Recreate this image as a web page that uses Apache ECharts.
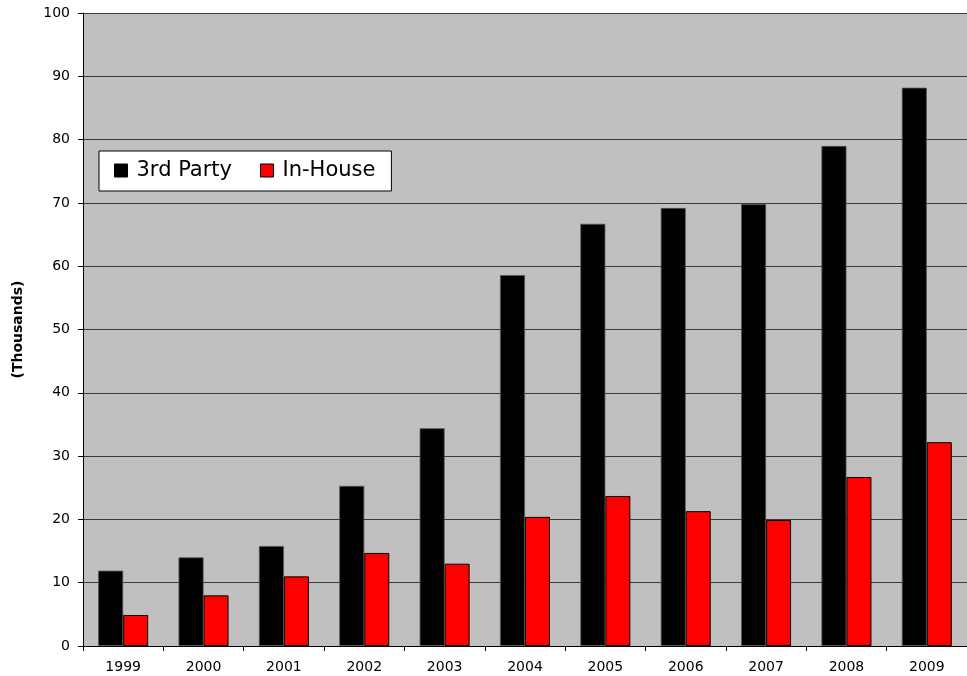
<!DOCTYPE html>
<html>
<head>
<meta charset="utf-8">
<script src="https://cdn.jsdelivr.net/npm/echarts@6/dist/echarts.min.js"></script>
<style>html,body{margin:0;padding:0;background:#fff}#c{width:967px;height:676px}</style>
</head>
<body>
<div id="c"></div>
<script>
var years = ['1999','2000','2001','2002','2003','2004','2005','2006','2007','2008','2009'];
var thirdParty = [11.9, 14.0, 15.8, 25.3, 34.4, 58.6, 66.7, 69.2, 69.8, 79.0, 88.2];
var inHouse = [4.9, 8.0, 11.0, 14.7, 13.0, 20.4, 23.7, 21.3, 19.9, 26.7, 32.2];
var yMin = 0, yMax = 100, yStep = 10;

var chart = echarts.init(document.getElementById('c'), null, {renderer: 'canvas'});
var font = 'DejaVu Sans, Liberation Sans, Arial, sans-serif';
chart.setOption({
  animation: false,
  grid: {left: 83, top: 13, bottom: 30, right: -3, show: true, backgroundColor: '#C0C0C0', borderColor: '#808080', borderWidth: 0},
  legend: {
    left: 99, top: 151, itemWidth: 13, itemHeight: 13, itemGap: 28,
    padding: [9, 16, 10, 15],
    backgroundColor: '#fff', borderColor: '#000', borderWidth: 1,
    textStyle: {fontFamily: font, fontSize: 21, color: '#000', padding: [0, 0, 0, 4]},
    icon: 'rect',
    data: [{name: '3rd Party', itemStyle: {borderColor: '#000', borderWidth: 1}}, {name: 'In-House', itemStyle: {borderColor: '#000', borderWidth: 1}}]
  },
  xAxis: {
    type: 'category', data: years, boundaryGap: true,
    axisLine: {show: true, lineStyle: {color: '#000', width: 1}},
    axisTick: {show: true, length: 5, lineStyle: {color: '#000'}},
    axisLabel: {fontFamily: font, fontSize: 14, color: '#000', margin: 14}
  },
  yAxis: {
    type: 'value', min: yMin, max: yMax, interval: yStep,
    name: '(Thousands)', nameLocation: 'middle', nameGap: 58, nameRotate: 90,
    nameTextStyle: {fontFamily: font, fontSize: 14, fontWeight: 'bold', color: '#000'},
    axisLine: {show: true, lineStyle: {color: '#000', width: 1}},
    axisTick: {show: true, length: 5, lineStyle: {color: '#000'}},
    axisLabel: {fontFamily: font, fontSize: 14, color: '#000', margin: 13},
    splitLine: {show: true, lineStyle: {color: '#3a3a3a', width: 1}}
  },
  series: [
    {name: '3rd Party', type: 'bar', data: thirdParty, barWidth: 25, barGap: '0%',
     itemStyle: {color: '#000', borderColor: '#555', borderWidth: 0.8}},
    {name: 'In-House', type: 'bar', data: inHouse, barWidth: 25, barGap: '0%',
     itemStyle: {color: '#FF0000', borderColor: '#000', borderWidth: 1}}
  ]
});
</script>
</body>
</html>
